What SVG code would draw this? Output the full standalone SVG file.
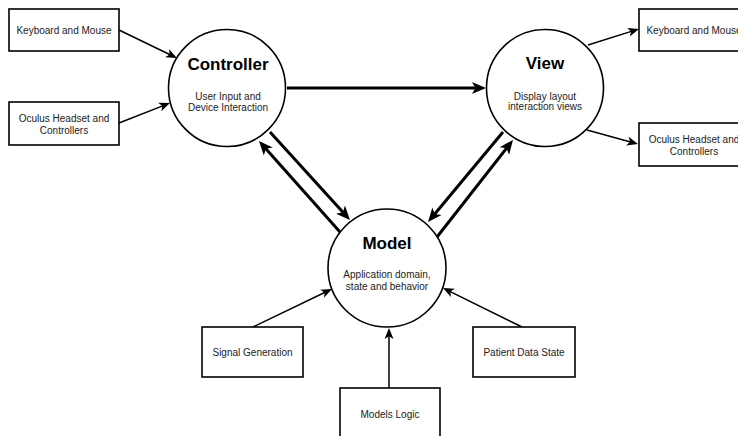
<svg xmlns="http://www.w3.org/2000/svg" width="738" height="436" viewBox="0 0 738 436">
<style>
.box{fill:#fff;stroke:#000;stroke-width:1.6}
.circ{fill:#fff;stroke:#000;stroke-width:1.6}
.thin{fill:none;stroke:#000;stroke-width:1.5}
.thick{fill:none;stroke:#000;stroke-width:3}
text{font-family:"Liberation Sans",Arial,sans-serif;text-anchor:middle}
.t{font-size:10px;fill:#222}
.h{font-size:17px;font-weight:bold;fill:#000}
</style>
<defs>
<marker id="ah" markerUnits="userSpaceOnUse" markerWidth="11" markerHeight="9" refX="8" refY="4.5" orient="auto" overflow="visible">
<path d="M0,0 L11,4.5 L0,9 L2.8,4.5 z" fill="#000"/>
</marker>
<marker id="ahb" markerUnits="userSpaceOnUse" markerWidth="14" markerHeight="12" refX="9" refY="6" orient="auto" overflow="visible">
<path d="M0,0 L14,6 L0,12 L3.5,6 z" fill="#000"/>
</marker>
</defs>
<g id="connectors">
<line class="thick" x1="287" y1="88" x2="481" y2="88" marker-end="url(#ahb)"/>
<line class="thick" x1="270" y1="132" x2="346.6" y2="216.3" marker-end="url(#ahb)"/>
<line class="thick" x1="340" y1="232" x2="262.3" y2="144.7" marker-end="url(#ahb)"/>
<line class="thick" x1="503" y1="132" x2="431.2" y2="218.2" marker-end="url(#ahb)"/>
<line class="thick" x1="437" y1="237" x2="509.9" y2="143.9" marker-end="url(#ahb)"/>
<line class="thin" x1="119" y1="30" x2="174.3" y2="56.7" marker-end="url(#ah)"/>
<line class="thin" x1="119" y1="123" x2="167.2" y2="104.1" marker-end="url(#ah)"/>
<line class="thin" x1="588" y1="45" x2="636.1" y2="29.9" marker-end="url(#ah)"/>
<line class="thin" x1="587" y1="130" x2="635.1" y2="143.2" marker-end="url(#ah)"/>
<line class="thin" x1="253" y1="327" x2="329.3" y2="290.3" marker-end="url(#ah)"/>
<line class="thin" x1="522" y1="327" x2="445.7" y2="289.3" marker-end="url(#ah)"/>
<line class="thin" x1="389" y1="388" x2="389" y2="331" marker-end="url(#ah)"/>
</g>
<g id="kbLeft"><rect class="box" x="9" y="9" width="110" height="42"/><text class="t" x="64" y="34">Keyboard and Mouse</text></g>
<g id="oculusLeft"><rect class="box" x="9" y="102" width="110" height="43"/><text class="t" x="64" y="122">Oculus Headset and</text><text class="t" x="64" y="134">Controllers</text></g>
<g id="controller"><circle class="circ" cx="227" cy="88" r="58.5"/><text class="h" x="228" y="70">Controller</text><text class="t" x="228" y="100">User Input and</text><text class="t" x="228" y="111">Device Interaction</text></g>
<g id="view"><circle class="circ" cx="545" cy="88" r="58.5"/><text class="h" x="545" y="69">View</text><text class="t" x="545" y="100">Display layout</text><text class="t" x="545" y="110">interaction views</text></g>
<g id="model"><circle class="circ" cx="387" cy="268" r="59"/><text class="h" x="387" y="249">Model</text><text class="t" x="387" y="278">Application domain,</text><text class="t" x="387" y="290">state and behavior</text></g>
<g id="kbRight"><rect class="box" x="639" y="9" width="110" height="42"/><text class="t" x="694" y="34">Keyboard and Mouse</text></g>
<g id="oculusRight"><rect class="box" x="639" y="123" width="110" height="43"/><text class="t" x="694" y="143">Oculus Headset and</text><text class="t" x="694" y="155">Controllers</text></g>
<g id="signal"><rect class="box" x="202" y="327" width="101" height="50"/><text class="t" x="252.5" y="356">Signal Generation</text></g>
<g id="patient"><rect class="box" x="473" y="327" width="102" height="50"/><text class="t" x="524" y="356">Patient Data State</text></g>
<g id="logic"><rect class="box" x="340" y="388" width="100" height="52"/><text class="t" x="390" y="418">Models Logic</text></g>
</svg>
